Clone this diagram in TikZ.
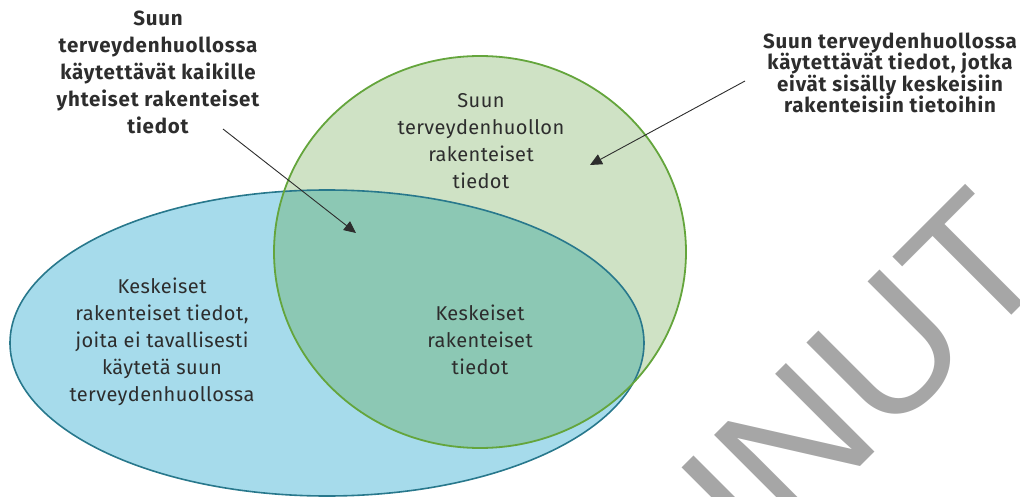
\documentclass[tikz,border=0pt]{standalone}
\usepackage{fontspec}
\setmainfont{Fira Sans}
\newfontfamily\plainfont[LetterSpace=2]{Fira Sans}
\newfontfamily\boldfont[LetterSpace=4]{Fira Sans}
\newfontfamily\stampfont{Liberation Sans}
\usepackage{xcolor}
\definecolor{corefill}{RGB}{166,219,235}
\definecolor{coreline}{RGB}{40,120,140}
\definecolor{oralfill}{RGB}{207,226,197}
\definecolor{oralline}{RGB}{100,165,60}
\definecolor{bothfill}{RGB}{140,200,180}
\definecolor{textgray}{RGB}{45,45,45}
\definecolor{stampgray}{RGB}{166,166,166}
\usetikzlibrary{arrows.meta}
\tikzset{>=stealth}
\tikzset{
  plain label/.style={align=center, text=textgray,
    font=\plainfont\fontsize{20}{27}\selectfont},
  bold label/.style={align=center, text=textgray,
    font=\boldfont\fontsize{20.5}{27}\selectfont\bfseries},
  pointer/.style={draw=textgray, line width=0.9pt,
    -{Triangle[length=12pt,width=11pt]}},
  stamp/.style={text=stampgray, font=\stampfont\fontsize{182}{182}\selectfont}
}

\begin{document}
\begin{tikzpicture}[x=1pt,y=-1pt]
    \useasboundingbox (0,0) rectangle (1020,497);
    % watermark
    \begin{scope}
        \clip (0,0) rectangle (1020,497);
        \node[stamp, rotate=45, anchor=base east, inner sep=0pt] (stamp) at (1057,270) {VANHENTUNUT};
    \end{scope}
    % the two sets
    \fill[corefill] (327,343) ellipse [x radius=317, y radius=153];
    \fill[oralfill] (480,252) ellipse [x radius=206, y radius=196];
    \begin{scope}
        \clip (480,252) ellipse [x radius=206, y radius=196];
        \fill[bothfill] (327,343) ellipse [x radius=317, y radius=153];
    \end{scope}
    \draw[coreline, line width=1.6pt] (327,343) ellipse [x radius=317, y radius=153];
    \draw[oralline, line width=1.8pt] (480,252) ellipse [x radius=206, y radius=196];

    \node[plain label] (oral) at (481,141) {Suun\\terveydenhuollon\\rakenteiset\\tiedot};
    \node[plain label] (core) at (162,342) {Keskeiset\\rakenteiset tiedot,\\joita ei tavallisesti\\käytetä suun\\terveydenhuollossa};
    \node[plain label] (both) at (480,340) {Keskeiset\\rakenteiset\\tiedot};

    \node[bold label] (shared) at (158,72) {Suun\\terveydenhuollossa\\käytettävät kaikille\\yhteiset rakenteiset\\tiedot};
    \node[bold label, font=\boldfont\fontsize{20.5}{21.5}\selectfont\bfseries] (outside) at (890,73) {Suun terveydenhuollossa\\käytettävät tiedot, jotka\\eivät sisälly keskeisiin\\rakenteisiin tietoihin};

    % pointers
    \coordinate (shared tail) at (223,129);
    \coordinate (shared tip) at (356,233);
    \coordinate (outside tail) at (745,81);
    \coordinate (outside tip) at (590,165);
    \draw[pointer] (shared tail) -- (shared tip);
    \draw[pointer] (outside tail) -- (outside tip);
\end{tikzpicture}
\end{document}
